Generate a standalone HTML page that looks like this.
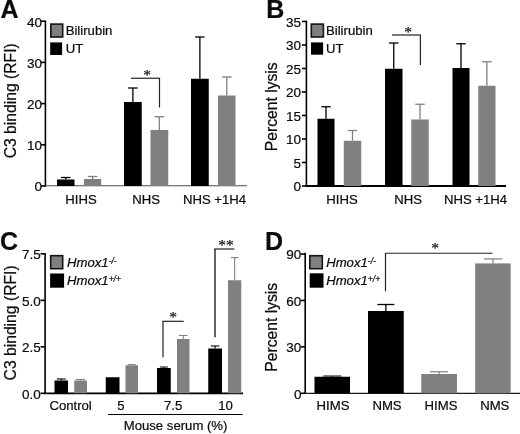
<!DOCTYPE html>
<html><head><meta charset="utf-8"><title>Figure</title>
<style>
html,body{margin:0;padding:0;background:#fff;}
body{width:520px;height:434px;overflow:hidden;}
svg{display:block;will-change:transform;}
svg text{font-family:"Liberation Sans",Arial,Helvetica,sans-serif;fill:#0c0c0c;stroke:#0c0c0c;stroke-width:0.22px;}
</style></head>
<body>
<svg width="520" height="434" viewBox="0 0 520 434">
<rect x="0" y="0" width="520" height="434" fill="#fff"/>
<text x="0.40" y="17.80" font-size="25" font-weight="bold">A</text>
<line x1="45.40" y1="20.60" x2="45.40" y2="186.60" stroke="#000" stroke-width="1.6"/>
<line x1="44.60" y1="185.80" x2="247.00" y2="185.80" stroke="#4a4a4a" stroke-width="1.1"/>
<line x1="40.90" y1="186.00" x2="45.40" y2="186.00" stroke="#000" stroke-width="1.6"/>
<text x="42.10" y="191.30" font-size="13.5" text-anchor="end" >0</text>
<line x1="40.90" y1="144.80" x2="45.40" y2="144.80" stroke="#000" stroke-width="1.6"/>
<text x="42.10" y="150.10" font-size="13.5" text-anchor="end" >10</text>
<line x1="40.90" y1="103.60" x2="45.40" y2="103.60" stroke="#000" stroke-width="1.6"/>
<text x="42.10" y="108.90" font-size="13.5" text-anchor="end" >20</text>
<line x1="40.90" y1="62.40" x2="45.40" y2="62.40" stroke="#000" stroke-width="1.6"/>
<text x="42.10" y="67.70" font-size="13.5" text-anchor="end" >30</text>
<line x1="40.90" y1="21.20" x2="45.40" y2="21.20" stroke="#000" stroke-width="1.6"/>
<text x="42.10" y="26.50" font-size="13.5" text-anchor="end" >40</text>
<text transform="translate(16.00,100.80) rotate(-90)" font-size="15.7" text-anchor="middle">C3 binding (RFI)</text>
<rect x="50.00" y="23.30" width="13.50" height="14.50" fill="#151515"/>
<rect x="51.60" y="24.90" width="10.30" height="11.30" fill="#808080"/>
<rect x="50.20" y="42.40" width="11.90" height="12.60" fill="#000"/>
<text x="65.70" y="35.10" font-size="13.15" text-anchor="start" >Bilirubin</text>
<text x="65.70" y="53.00" font-size="13.15" text-anchor="start" >UT</text>
<line x1="65.75" y1="179.50" x2="65.75" y2="177.50" stroke="#000" stroke-width="1.3"/>
<line x1="61.00" y1="177.50" x2="70.50" y2="177.50" stroke="#000" stroke-width="1.3"/>
<rect x="57.00" y="179.50" width="17.50" height="6.50" fill="#000"/>
<line x1="92.60" y1="179.00" x2="92.60" y2="176.50" stroke="#808080" stroke-width="1.3"/>
<line x1="87.85" y1="176.50" x2="97.35" y2="176.50" stroke="#808080" stroke-width="1.3"/>
<rect x="84.00" y="179.00" width="17.20" height="7.00" fill="#808080"/>
<line x1="132.88" y1="102.00" x2="132.88" y2="88.00" stroke="#000" stroke-width="1.3"/>
<line x1="128.12" y1="88.00" x2="137.62" y2="88.00" stroke="#000" stroke-width="1.3"/>
<rect x="124.00" y="102.00" width="17.75" height="84.00" fill="#000"/>
<line x1="159.38" y1="130.00" x2="159.38" y2="116.75" stroke="#808080" stroke-width="1.3"/>
<line x1="154.62" y1="116.75" x2="164.12" y2="116.75" stroke="#808080" stroke-width="1.3"/>
<rect x="150.50" y="130.00" width="17.75" height="56.00" fill="#808080"/>
<line x1="199.88" y1="78.75" x2="199.88" y2="37.00" stroke="#000" stroke-width="1.3"/>
<line x1="195.12" y1="37.00" x2="204.62" y2="37.00" stroke="#000" stroke-width="1.3"/>
<rect x="191.00" y="78.75" width="17.75" height="107.25" fill="#000"/>
<line x1="226.75" y1="95.50" x2="226.75" y2="77.00" stroke="#808080" stroke-width="1.3"/>
<line x1="222.00" y1="77.00" x2="231.50" y2="77.00" stroke="#808080" stroke-width="1.3"/>
<rect x="218.00" y="95.50" width="17.50" height="90.50" fill="#808080"/>
<line x1="131.00" y1="78.25" x2="160.10" y2="78.25" stroke="#222" stroke-width="1.2"/>
<line x1="159.50" y1="78.25" x2="159.50" y2="107.50" stroke="#222" stroke-width="1.2"/>
<text x="147.00" y="80.00" font-size="15.5" text-anchor="middle" fill="#222" style="font-family:'Liberation Serif',serif">*</text>
<text x="81.00" y="203.50" font-size="13.15" text-anchor="middle" >HIHS</text>
<text x="146.20" y="203.50" font-size="13.15" text-anchor="middle" >NHS</text>
<text x="214.50" y="203.50" font-size="13.15" text-anchor="middle" >NHS +1H4</text>
<text x="266.30" y="17.80" font-size="25" font-weight="bold">B</text>
<line x1="306.40" y1="20.60" x2="306.40" y2="186.80" stroke="#000" stroke-width="1.6"/>
<line x1="305.60" y1="186.00" x2="506.00" y2="186.00" stroke="#000" stroke-width="1.8"/>
<line x1="301.90" y1="186.00" x2="306.40" y2="186.00" stroke="#000" stroke-width="1.6"/>
<text x="301.10" y="191.30" font-size="13.5" text-anchor="end" >0</text>
<line x1="301.90" y1="162.50" x2="306.40" y2="162.50" stroke="#000" stroke-width="1.6"/>
<text x="301.10" y="167.80" font-size="13.5" text-anchor="end" >5</text>
<line x1="301.90" y1="139.00" x2="306.40" y2="139.00" stroke="#000" stroke-width="1.6"/>
<text x="301.10" y="144.30" font-size="13.5" text-anchor="end" >10</text>
<line x1="301.90" y1="115.50" x2="306.40" y2="115.50" stroke="#000" stroke-width="1.6"/>
<text x="301.10" y="120.80" font-size="13.5" text-anchor="end" >15</text>
<line x1="301.90" y1="92.00" x2="306.40" y2="92.00" stroke="#000" stroke-width="1.6"/>
<text x="301.10" y="97.30" font-size="13.5" text-anchor="end" >20</text>
<line x1="301.90" y1="68.50" x2="306.40" y2="68.50" stroke="#000" stroke-width="1.6"/>
<text x="301.10" y="73.80" font-size="13.5" text-anchor="end" >25</text>
<line x1="301.90" y1="45.00" x2="306.40" y2="45.00" stroke="#000" stroke-width="1.6"/>
<text x="301.10" y="50.30" font-size="13.5" text-anchor="end" >30</text>
<line x1="301.90" y1="21.50" x2="306.40" y2="21.50" stroke="#000" stroke-width="1.6"/>
<text x="301.10" y="26.80" font-size="13.5" text-anchor="end" >35</text>
<text transform="translate(277.40,106.80) rotate(-90)" font-size="15.7" text-anchor="middle">Percent lysis</text>
<rect x="310.50" y="23.30" width="13.70" height="14.50" fill="#151515"/>
<rect x="312.10" y="24.90" width="10.50" height="11.30" fill="#808080"/>
<rect x="311.00" y="42.40" width="12.10" height="12.30" fill="#000"/>
<text x="326.00" y="35.10" font-size="13.15" text-anchor="start" >Bilirubin</text>
<text x="326.00" y="53.00" font-size="13.15" text-anchor="start" >UT</text>
<line x1="326.00" y1="118.75" x2="326.00" y2="106.75" stroke="#000" stroke-width="1.3"/>
<line x1="321.25" y1="106.75" x2="330.75" y2="106.75" stroke="#000" stroke-width="1.3"/>
<rect x="317.50" y="118.75" width="17.00" height="67.25" fill="#000"/>
<line x1="352.50" y1="140.75" x2="352.50" y2="130.50" stroke="#808080" stroke-width="1.3"/>
<line x1="347.75" y1="130.50" x2="357.25" y2="130.50" stroke="#808080" stroke-width="1.3"/>
<rect x="343.75" y="140.75" width="17.50" height="45.25" fill="#808080"/>
<line x1="393.75" y1="68.75" x2="393.75" y2="43.00" stroke="#000" stroke-width="1.3"/>
<line x1="389.00" y1="43.00" x2="398.50" y2="43.00" stroke="#000" stroke-width="1.3"/>
<rect x="385.00" y="68.75" width="17.50" height="117.25" fill="#000"/>
<line x1="420.00" y1="119.50" x2="420.00" y2="104.25" stroke="#808080" stroke-width="1.3"/>
<line x1="415.25" y1="104.25" x2="424.75" y2="104.25" stroke="#808080" stroke-width="1.3"/>
<rect x="411.25" y="119.50" width="17.50" height="66.50" fill="#808080"/>
<line x1="461.00" y1="68.00" x2="461.00" y2="43.75" stroke="#000" stroke-width="1.3"/>
<line x1="456.25" y1="43.75" x2="465.75" y2="43.75" stroke="#000" stroke-width="1.3"/>
<rect x="452.50" y="68.00" width="17.00" height="118.00" fill="#000"/>
<line x1="486.88" y1="85.75" x2="486.88" y2="61.75" stroke="#808080" stroke-width="1.3"/>
<line x1="482.12" y1="61.75" x2="491.62" y2="61.75" stroke="#808080" stroke-width="1.3"/>
<rect x="478.25" y="85.75" width="17.25" height="100.25" fill="#808080"/>
<line x1="392.00" y1="35.00" x2="421.00" y2="35.00" stroke="#222" stroke-width="1.2"/>
<line x1="420.40" y1="35.00" x2="420.40" y2="65.00" stroke="#222" stroke-width="1.2"/>
<text x="408.00" y="36.70" font-size="15.5" text-anchor="middle" fill="#222" style="font-family:'Liberation Serif',serif">*</text>
<text x="342.00" y="203.50" font-size="13.15" text-anchor="middle" >HIHS</text>
<text x="408.20" y="203.50" font-size="13.15" text-anchor="middle" >NHS</text>
<text x="475.50" y="203.50" font-size="13.15" text-anchor="middle" >NHS +1H4</text>
<text x="0.10" y="250.00" font-size="25" font-weight="bold">C</text>
<line x1="45.10" y1="253.00" x2="45.10" y2="394.10" stroke="#000" stroke-width="1.6"/>
<line x1="44.30" y1="393.30" x2="243.00" y2="393.30" stroke="#000" stroke-width="1.7"/>
<line x1="40.60" y1="393.30" x2="45.10" y2="393.30" stroke="#000" stroke-width="1.6"/>
<text x="40.70" y="398.60" font-size="13.5" text-anchor="end" >0.0</text>
<line x1="40.60" y1="346.80" x2="45.10" y2="346.80" stroke="#000" stroke-width="1.6"/>
<text x="40.70" y="352.10" font-size="13.5" text-anchor="end" >2.5</text>
<line x1="40.60" y1="300.30" x2="45.10" y2="300.30" stroke="#000" stroke-width="1.6"/>
<text x="40.70" y="305.60" font-size="13.5" text-anchor="end" >5.0</text>
<line x1="40.60" y1="253.80" x2="45.10" y2="253.80" stroke="#000" stroke-width="1.6"/>
<text x="40.70" y="259.10" font-size="13.5" text-anchor="end" >7.5</text>
<text transform="translate(16.00,322.90) rotate(-90)" font-size="15.7" text-anchor="middle">C3 binding (RFI)</text>
<rect x="49.90" y="254.90" width="13.60" height="14.60" fill="#151515"/>
<rect x="51.50" y="256.50" width="10.40" height="11.40" fill="#808080"/>
<rect x="50.10" y="273.50" width="14.00" height="14.20" fill="#000"/>
<text x="67.00" y="267.20" font-size="13.15" text-anchor="start" font-style="italic">Hmox1<tspan font-size="8.5" dy="-3.3">-/-</tspan></text>
<text x="67.00" y="284.80" font-size="13.15" text-anchor="start" font-style="italic">Hmox1<tspan font-size="8.5" dy="-3.3">+/+</tspan></text>
<line x1="61.25" y1="380.50" x2="61.25" y2="379.00" stroke="#000" stroke-width="1.1"/>
<line x1="56.75" y1="379.00" x2="65.75" y2="379.00" stroke="#000" stroke-width="1.1"/>
<rect x="54.50" y="380.50" width="13.50" height="12.80" fill="#000"/>
<line x1="80.62" y1="380.50" x2="80.62" y2="379.50" stroke="#808080" stroke-width="1.1"/>
<line x1="76.12" y1="379.50" x2="85.12" y2="379.50" stroke="#808080" stroke-width="1.1"/>
<rect x="74.25" y="380.50" width="12.75" height="12.80" fill="#808080"/>
<rect x="105.75" y="377.25" width="13.75" height="16.05" fill="#000"/>
<line x1="131.75" y1="365.25" x2="131.75" y2="364.60" stroke="#808080" stroke-width="1"/>
<line x1="127.75" y1="364.60" x2="135.75" y2="364.60" stroke="#808080" stroke-width="1"/>
<rect x="125.50" y="365.25" width="12.50" height="28.05" fill="#808080"/>
<line x1="163.88" y1="368.00" x2="163.88" y2="367.00" stroke="#000" stroke-width="1"/>
<line x1="159.88" y1="367.00" x2="167.88" y2="367.00" stroke="#000" stroke-width="1"/>
<rect x="157.00" y="368.00" width="13.75" height="25.30" fill="#000"/>
<line x1="183.25" y1="339.00" x2="183.25" y2="335.50" stroke="#808080" stroke-width="1.1"/>
<line x1="179.00" y1="335.50" x2="187.50" y2="335.50" stroke="#808080" stroke-width="1.1"/>
<rect x="177.00" y="339.00" width="12.50" height="54.30" fill="#808080"/>
<line x1="215.12" y1="348.50" x2="215.12" y2="346.00" stroke="#000" stroke-width="1.1"/>
<line x1="210.88" y1="346.00" x2="219.38" y2="346.00" stroke="#000" stroke-width="1.1"/>
<rect x="208.25" y="348.50" width="13.75" height="44.80" fill="#000"/>
<line x1="234.62" y1="280.25" x2="234.62" y2="257.60" stroke="#808080" stroke-width="1.1"/>
<line x1="230.88" y1="257.60" x2="238.38" y2="257.60" stroke="#808080" stroke-width="1.1"/>
<rect x="228.00" y="280.25" width="13.25" height="113.05" fill="#808080"/>
<line x1="162.40" y1="321.30" x2="183.70" y2="321.30" stroke="#222" stroke-width="1.2"/>
<line x1="163.00" y1="321.30" x2="163.00" y2="357.25" stroke="#222" stroke-width="1.2"/>
<text x="173.00" y="321.70" font-size="15.5" text-anchor="middle" fill="#222" style="font-family:'Liberation Serif',serif">*</text>
<line x1="214.30" y1="249.00" x2="234.40" y2="249.00" stroke="#222" stroke-width="1.2"/>
<line x1="215.00" y1="249.00" x2="215.00" y2="337.25" stroke="#222" stroke-width="1.4"/>
<text x="226.00" y="249.90" font-size="15.5" text-anchor="middle" fill="#222" style="font-family:'Liberation Serif',serif">**</text>
<text x="70.60" y="410.00" font-size="13.15" text-anchor="middle" >Control</text>
<text x="121.00" y="410.00" font-size="13.15" text-anchor="middle" >5</text>
<text x="173.20" y="410.00" font-size="13.15" text-anchor="middle" >7.5</text>
<text x="225.60" y="410.00" font-size="13.15" text-anchor="middle" >10</text>
<line x1="108.00" y1="414.50" x2="242.50" y2="414.50" stroke="#000" stroke-width="1.2"/>
<text x="175.60" y="430.00" font-size="13.15" text-anchor="middle" >Mouse serum (%)</text>
<text x="265.00" y="250.00" font-size="25" font-weight="bold">D</text>
<line x1="305.20" y1="252.70" x2="305.20" y2="394.10" stroke="#000" stroke-width="1.6"/>
<line x1="304.40" y1="393.30" x2="520.00" y2="393.30" stroke="#1a1a1a" stroke-width="1.2"/>
<line x1="300.70" y1="393.30" x2="305.20" y2="393.30" stroke="#000" stroke-width="1.6"/>
<text x="301.40" y="398.60" font-size="13.5" text-anchor="end" >0</text>
<line x1="300.70" y1="346.89" x2="305.20" y2="346.89" stroke="#000" stroke-width="1.6"/>
<text x="301.40" y="352.19" font-size="13.5" text-anchor="end" >30</text>
<line x1="300.70" y1="300.48" x2="305.20" y2="300.48" stroke="#000" stroke-width="1.6"/>
<text x="301.40" y="305.78" font-size="13.5" text-anchor="end" >60</text>
<line x1="300.70" y1="254.07" x2="305.20" y2="254.07" stroke="#000" stroke-width="1.6"/>
<text x="301.40" y="259.37" font-size="13.5" text-anchor="end" >90</text>
<text transform="translate(277.40,327.30) rotate(-90)" font-size="15.7" text-anchor="middle">Percent lysis</text>
<rect x="309.00" y="254.90" width="14.10" height="14.60" fill="#151515"/>
<rect x="310.60" y="256.50" width="10.90" height="11.40" fill="#808080"/>
<rect x="309.70" y="273.30" width="13.80" height="14.40" fill="#000"/>
<text x="326.20" y="267.20" font-size="13.15" text-anchor="start" font-style="italic">Hmox1<tspan font-size="8.5" dy="-3.3">-/-</tspan></text>
<text x="326.20" y="284.80" font-size="13.15" text-anchor="start" font-style="italic">Hmox1<tspan font-size="8.5" dy="-3.3">+/+</tspan></text>
<line x1="332.25" y1="376.75" x2="332.25" y2="376.00" stroke="#000" stroke-width="1"/>
<line x1="323.25" y1="376.00" x2="341.25" y2="376.00" stroke="#000" stroke-width="1"/>
<rect x="314.50" y="376.75" width="35.50" height="16.55" fill="#000"/>
<line x1="385.88" y1="311.00" x2="385.88" y2="304.50" stroke="#000" stroke-width="1.3"/>
<line x1="377.38" y1="304.50" x2="394.38" y2="304.50" stroke="#000" stroke-width="1.3"/>
<rect x="368.00" y="311.00" width="35.75" height="82.30" fill="#000"/>
<line x1="439.12" y1="374.00" x2="439.12" y2="371.75" stroke="#808080" stroke-width="1.2"/>
<line x1="430.12" y1="371.75" x2="448.12" y2="371.75" stroke="#808080" stroke-width="1.2"/>
<rect x="421.25" y="374.00" width="35.75" height="19.30" fill="#808080"/>
<line x1="492.95" y1="263.40" x2="492.95" y2="258.90" stroke="#808080" stroke-width="1.2"/>
<line x1="483.75" y1="258.90" x2="502.15" y2="258.90" stroke="#808080" stroke-width="1.2"/>
<rect x="475.20" y="263.40" width="35.50" height="129.90" fill="#808080"/>
<line x1="384.90" y1="253.25" x2="492.50" y2="253.25" stroke="#222" stroke-width="1.2"/>
<line x1="385.50" y1="253.25" x2="385.50" y2="291.25" stroke="#222" stroke-width="1.2"/>
<text x="435.00" y="252.60" font-size="15.5" text-anchor="middle" fill="#222" style="font-family:'Liberation Serif',serif">*</text>
<text x="333.00" y="410.00" font-size="13.15" text-anchor="middle" >HIMS</text>
<text x="387.00" y="410.00" font-size="13.15" text-anchor="middle" >NMS</text>
<text x="441.00" y="410.00" font-size="13.15" text-anchor="middle" >HIMS</text>
<text x="494.80" y="410.00" font-size="13.15" text-anchor="middle" >NMS</text>
</svg>
</body></html>
